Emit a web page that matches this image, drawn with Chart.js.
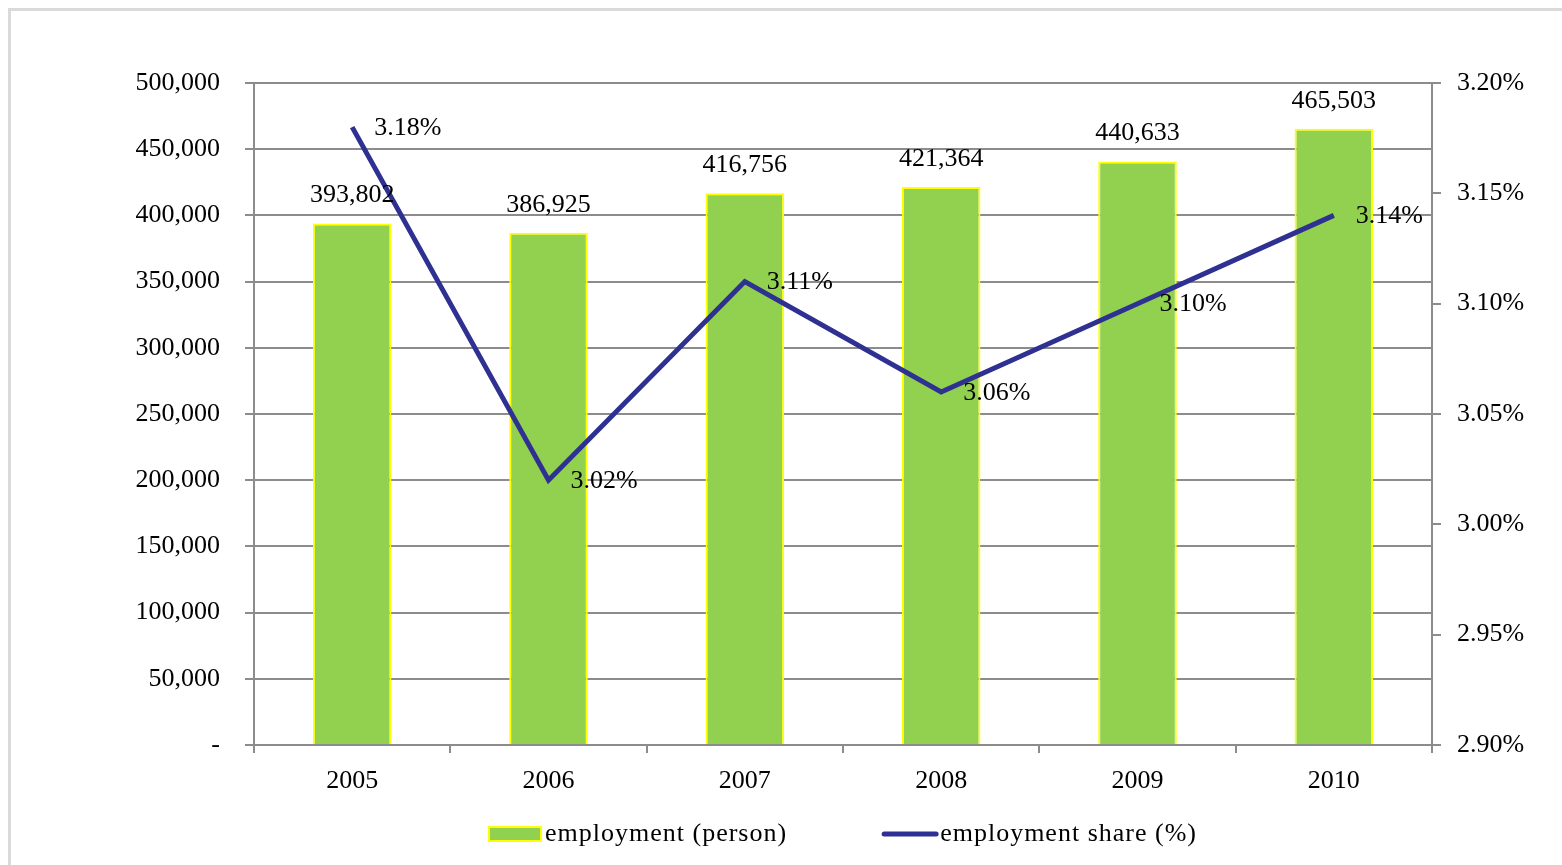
<!DOCTYPE html>
<html>
<head>
<meta charset="utf-8">
<script src="https://cdn.jsdelivr.net/npm/chart.js@4/dist/chart.umd.min.js"></script>
<style>
  html, body { margin: 0; padding: 0; background: #fff; overflow: hidden; }
  #frame {
    position: absolute; left: 8px; top: 8px; width: 1600px; height: 900px;
    border: 3px solid #dadada; box-sizing: border-box;
  }
  #wrap { position: absolute; left: 0; top: 0; width: 1562px; height: 865px; }
</style>
</head>
<body>
<div id="frame"></div>
<div id="wrap"><canvas id="employmentChart" width="1562" height="865"></canvas></div>
<script>
const years = ['2005', '2006', '2007', '2008', '2009', '2010'];
const employment = [393802, 386925, 416756, 421364, 440633, 465503];
const employmentShare = [3.18, 3.02, 3.11, 3.06, 3.10, 3.14];
const leftTicks = [0, 50000, 100000, 150000, 200000, 250000, 300000, 350000, 400000, 450000, 500000];
const rightTicks = [2.90, 2.95, 3.00, 3.05, 3.10, 3.15, 3.20];

const FONT = 'Liberation Serif, Times New Roman, serif';
const GREY = '#8c8c8c';

// draws the value labels and the bottom legend
const labelsPlugin = {
  id: 'valueLabels',
  afterDatasetsDraw(chart) {
    const ctx = chart.ctx;
    ctx.save();
    ctx.font = '26px ' + FONT;
    ctx.fillStyle = '#000';

    const barMeta = chart.getDatasetMeta(0);
    ctx.textAlign = 'center';
    ctx.textBaseline = 'middle';
    barMeta.data.forEach((bar, i) => {
      ctx.fillText(employment[i].toLocaleString('en-US'), bar.x, bar.y - 28);
    });

    const lineMeta = chart.getDatasetMeta(1);
    ctx.textAlign = 'left';
    lineMeta.data.forEach((pt, i) => {
      ctx.fillText(employmentShare[i].toFixed(2) + '%', pt.x + 22, pt.y + 1);
    });

    // legend
    ctx.letterSpacing = '1px';
    const area = chart.chartArea;
    const y = area.bottom + 89;
    const ds = chart.data.datasets;
    const boxW = 52, gap = 4, spacing = 97;
    const w0 = ctx.measureText(ds[0].label).width;
    const w1 = ctx.measureText(ds[1].label).width;
    const total = boxW + gap + w0 + spacing + boxW + gap + w1;
    let x = (area.left + area.right) / 2 - total / 2;

    ctx.fillStyle = ds[0].backgroundColor;
    ctx.fillRect(x, y - 7, boxW, 14);
    ctx.strokeStyle = ds[0].borderColor;
    ctx.lineWidth = 2;
    ctx.strokeRect(x, y - 7, boxW, 14);
    ctx.fillStyle = '#000';
    ctx.fillText(ds[0].label, x + boxW + gap, y);
    x += boxW + gap + w0 + spacing;

    ctx.strokeStyle = ds[1].borderColor;
    ctx.lineWidth = 5;
    ctx.lineCap = 'round';
    ctx.beginPath();
    ctx.moveTo(x, y);
    ctx.lineTo(x + boxW, y);
    ctx.stroke();
    ctx.fillText(ds[1].label, x + boxW + gap, y);
    ctx.restore();
  }
};

new Chart(document.getElementById('employmentChart'), {
  type: 'bar',
  data: {
    labels: years,
    datasets: [
      {
        type: 'bar',
        label: 'employment (person)',
        data: employment,
        backgroundColor: '#92d050',
        borderColor: '#ffff00',
        borderWidth: 2,
        barPercentage: 0.4,
        categoryPercentage: 1,
        yAxisID: 'y',
        order: 2,
      },
      {
        type: 'line',
        label: 'employment share (%)',
        data: employmentShare,
        borderColor: '#2e3192',
        backgroundColor: '#2e3192',
        borderWidth: 5,
        pointRadius: 0,
        tension: 0,
        yAxisID: 'y1',
        order: 1,
      },
    ],
  },
  options: {
    responsive: false,
    animation: false,
    layout: { padding: { top: 83, left: 0, right: 0, bottom: 0 } },
    plugins: {
      legend: { display: false },
      tooltip: { enabled: false },
      title: { display: false },
    },
    scales: {
      x: {
        grid: { offset: true, drawOnChartArea: false, drawTicks: true, tickLength: 8, color: GREY, lineWidth: 2 },
        border: { color: GREY, width: 2 },
        ticks: { color: '#000', padding: 13, font: { family: FONT, size: 26 } },
        afterFit: (scale) => { scale.height = 120; },
      },
      y: {
        position: 'left',
        min: 0,
        max: 500000,
        grid: { color: GREY, lineWidth: 2, tickLength: 9 },
        border: { color: GREY, width: 2 },
        ticks: {
          color: '#000',
          padding: 25,
          font: { family: FONT, size: 26 },
          callback: (v) => (v === 0 ? '-' : v.toLocaleString('en-US')),
        },
        afterBuildTicks: (scale) => { scale.ticks = leftTicks.map((v) => ({ value: v })); },
        afterFit: (scale) => { scale.width = 254; },
      },
      y1: {
        position: 'right',
        min: 2.9,
        max: 3.2,
        grid: { drawOnChartArea: false, color: GREY, lineWidth: 2, tickLength: 9 },
        border: { color: GREY, width: 2 },
        ticks: {
          color: '#000',
          padding: 16,
          font: { family: FONT, size: 26 },
          callback: (v) => v.toFixed(2) + '%',
        },
        afterBuildTicks: (scale) => { scale.ticks = rightTicks.map((v) => ({ value: v })); },
        afterFit: (scale) => { scale.width = 130; },
      },
    },
  },
  plugins: [labelsPlugin],
});
</script>
</body>
</html>
